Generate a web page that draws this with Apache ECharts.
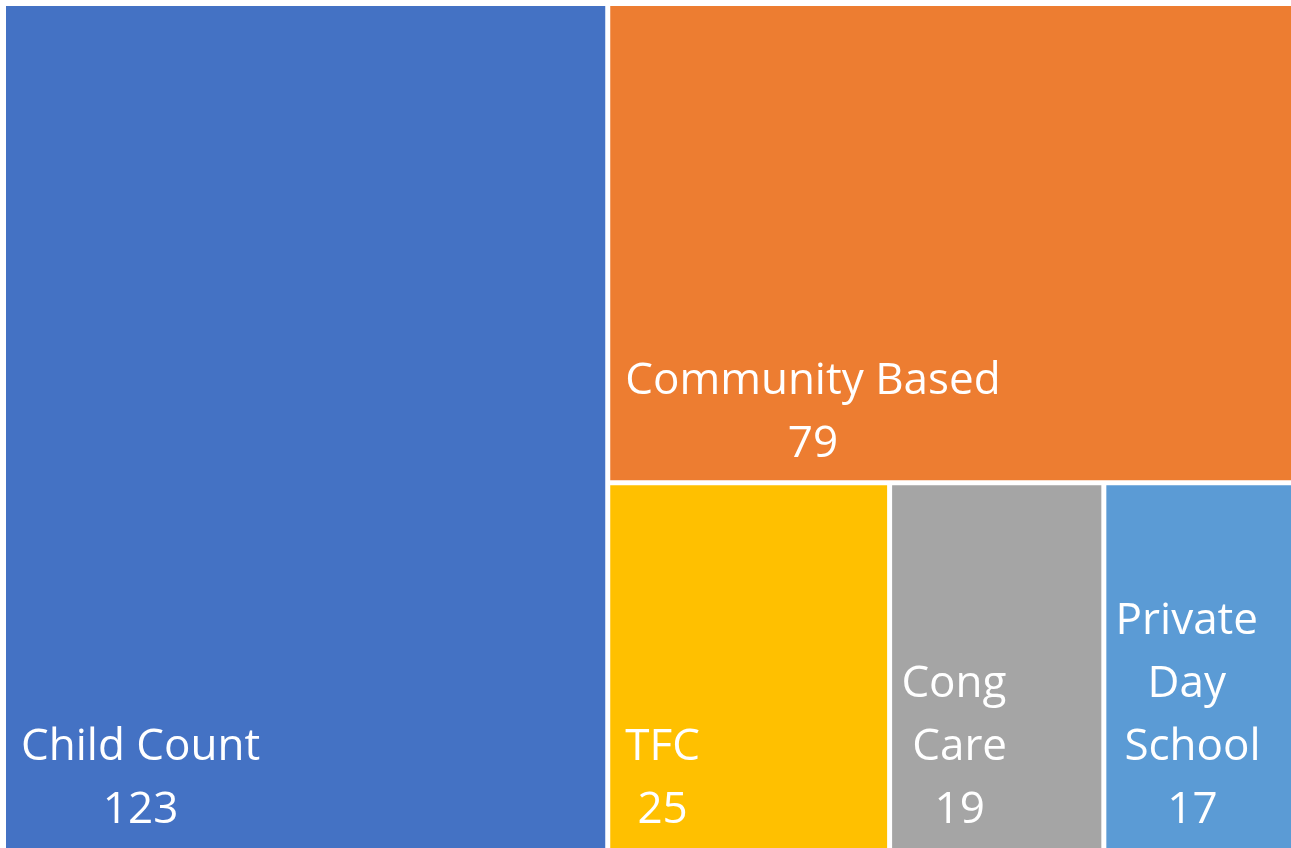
<!DOCTYPE html>
<html>
<head>
<meta charset="utf-8">
<script src="https://cdn.jsdelivr.net/npm/echarts@6/dist/echarts.min.js"></script>
<style>
    html, body { margin: 0; padding: 0; background: #fff; }
    #main { width: 1291px; height: 848px; }
</style>
</head>
<body>
<div id="main"></div>
<script>
var categories = ['Child Count', 'Community Based', 'TFC', 'Cong Care', 'Private Day School']
var counts = [123, 79, 25, 19, 17]
var colors = ['#4472C4', '#ED7D31', '#FFC000', '#A5A5A5', '#5B9BD5']

var labelFont = '44px "Open Sans"'
var labelPad = 11

var chart = echarts.init(document.getElementById('main'))

// measure the wrapped label block so the lines can be centred on each other
var ctx = document.createElement('canvas').getContext('2d')
ctx.font = labelFont
function blockWidth(text, maxW) {
    var w = 0
    text.split('\n').forEach(function (line) {
        var cur = ''
        line.split(' ').forEach(function (word) {
            var t = cur ? cur + ' ' + word : word
            if (cur && ctx.measureText(t).width > maxW) {
                w = Math.max(w, ctx.measureText(cur).width)
                cur = word
            } else {
                cur = t
            }
        })
        w = Math.max(w, ctx.measureText(cur).width)
    })
    return w
}

var data = categories.map(function (name, i) {
    return {name: name, value: counts[i], itemStyle: {color: colors[i]}}
})

var option = {
    series: [
        {
            type: 'treemap',
            left: 6,
            top: 6,
            width: 1287,
            height: 844.5,
            squareRatio: 1,          // plain squarify, like the excel layout
            roam: false,
            nodeClick: false,
            breadcrumb: {show: false},
            itemStyle: {
                gapWidth: 5,
                borderWidth: 0
            },
            label: {
                show: true,
                position: 'insideBottomLeft',
                formatter: '{b}\n{c}',
                fontFamily: 'Open Sans',
                fontSize: 44,
                lineHeight: 63,
                color: '#fff',
                overflow: 'break',
                padding: [0, labelPad, 0, labelPad]
            },
            labelLayout: function (p) {
                var w = blockWidth(p.text, p.rect.width - 2 * labelPad)
                var bottom = Math.min(p.rect.y + p.rect.height, chart.getHeight() - 2)
                return {
                    x: p.rect.x + 15 + w / 2,
                    y: bottom - 4,
                    align: 'center',
                    verticalAlign: 'bottom'
                }
            },
            data: data
        }
    ]
}

chart.setOption(option)
</script>
</body>
</html>
